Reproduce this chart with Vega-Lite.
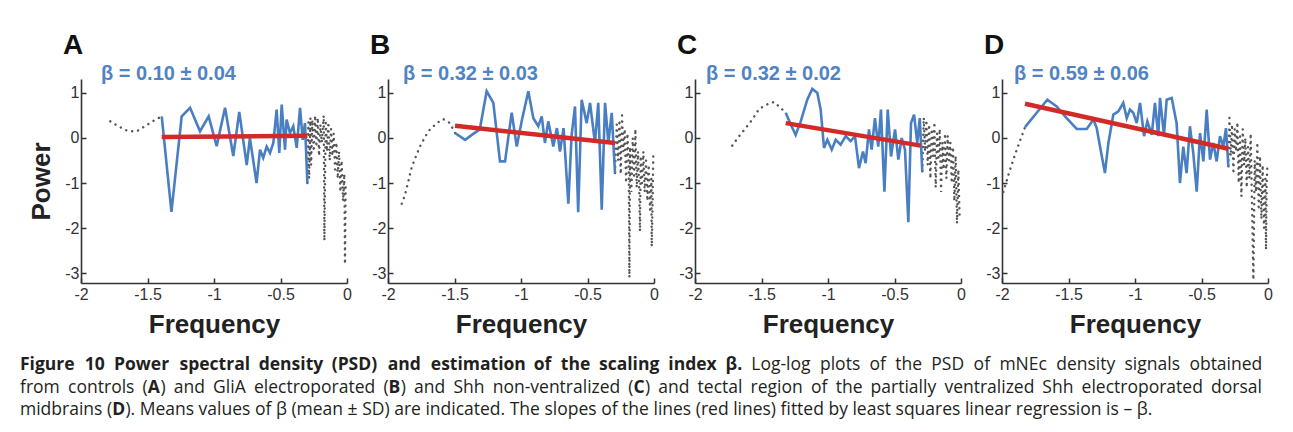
{
  "$schema": "https://vega.github.io/schema/vega-lite/v6.json",
  "padding": {"left": 20, "top": 32, "right": 5, "bottom": 5},
  "background": "white",
  "datasets": {
    "d": [
      {"p":"A","s":"lo","x":-1.78,"y":0.37},{"p":"A","s":"lo","x":-1.72,"y":0.26},{"p":"A","s":"lo","x":-1.644,"y":0.15},{"p":"A","s":"lo","x":-1.58,"y":0.15},{"p":"A","s":"lo","x":-1.52,"y":0.26},{"p":"A","s":"lo","x":-1.45,"y":0.39},{"p":"A","s":"lo","x":-1.393,"y":0.48},
      {"p":"A","s":"mid","x":-1.393,"y":0.48},{"p":"A","s":"mid","x":-1.32,"y":-1.64},{"p":"A","s":"mid","x":-1.243,"y":0.48},{"p":"A","s":"mid","x":-1.18,"y":0.67},{"p":"A","s":"mid","x":-1.105,"y":0.15},{"p":"A","s":"mid","x":-1.04,"y":0.48},{"p":"A","s":"mid","x":-0.98,"y":-0.18},{"p":"A","s":"mid","x":-0.917,"y":0.67},{"p":"A","s":"mid","x":-0.855,"y":-0.4},{"p":"A","s":"mid","x":-0.81,"y":0.58},{"p":"A","s":"mid","x":-0.754,"y":-0.6},{"p":"A","s":"mid","x":-0.73,"y":0.0},{"p":"A","s":"mid","x":-0.68,"y":-1.0},{"p":"A","s":"mid","x":-0.654,"y":-0.26},{"p":"A","s":"mid","x":-0.63,"y":-0.44},{"p":"A","s":"mid","x":-0.604,"y":-0.19},{"p":"A","s":"mid","x":-0.579,"y":-0.33},{"p":"A","s":"mid","x":-0.554,"y":-0.11},{"p":"A","s":"mid","x":-0.529,"y":0.63},{"p":"A","s":"mid","x":-0.509,"y":-0.33},{"p":"A","s":"mid","x":-0.491,"y":0.74},{"p":"A","s":"mid","x":-0.466,"y":-0.26},{"p":"A","s":"mid","x":-0.454,"y":0.41},{"p":"A","s":"mid","x":-0.429,"y":0.11},{"p":"A","s":"mid","x":-0.404,"y":0.26},{"p":"A","s":"mid","x":-0.378,"y":-0.22},{"p":"A","s":"mid","x":-0.353,"y":0.67},{"p":"A","s":"mid","x":-0.333,"y":-0.04},{"p":"A","s":"mid","x":-0.316,"y":0.33},{"p":"A","s":"mid","x":-0.298,"y":-1.0},
      {"p":"A","s":"hi","x":-0.298,"y":-1.0},{"p":"A","s":"hi","x":-0.29,"y":0.35},{"p":"A","s":"hi","x":-0.285,"y":-0.9},{"p":"A","s":"hi","x":-0.275,"y":0.45},{"p":"A","s":"hi","x":-0.27,"y":-0.6},{"p":"A","s":"hi","x":-0.26,"y":0.4},{"p":"A","s":"hi","x":-0.25,"y":-0.3},{"p":"A","s":"hi","x":-0.24,"y":0.5},{"p":"A","s":"hi","x":-0.23,"y":-0.2},{"p":"A","s":"hi","x":-0.22,"y":0.45},{"p":"A","s":"hi","x":-0.21,"y":-0.4},{"p":"A","s":"hi","x":-0.2,"y":0.3},{"p":"A","s":"hi","x":-0.19,"y":-0.1},{"p":"A","s":"hi","x":-0.175,"y":0.5},{"p":"A","s":"hi","x":-0.17,"y":-2.28},{"p":"A","s":"hi","x":-0.16,"y":0.4},{"p":"A","s":"hi","x":-0.15,"y":-0.3},{"p":"A","s":"hi","x":-0.14,"y":0.35},{"p":"A","s":"hi","x":-0.13,"y":-0.5},{"p":"A","s":"hi","x":-0.12,"y":0.2},{"p":"A","s":"hi","x":-0.11,"y":-0.4},{"p":"A","s":"hi","x":-0.1,"y":0.1},{"p":"A","s":"hi","x":-0.09,"y":-0.7},{"p":"A","s":"hi","x":-0.08,"y":-0.1},{"p":"A","s":"hi","x":-0.07,"y":-0.9},{"p":"A","s":"hi","x":-0.06,"y":-0.3},{"p":"A","s":"hi","x":-0.05,"y":-1.2},{"p":"A","s":"hi","x":-0.04,"y":-0.5},{"p":"A","s":"hi","x":-0.03,"y":-1.4},{"p":"A","s":"hi","x":-0.02,"y":-0.8},{"p":"A","s":"hi","x":-0.015,"y":-2.8},{"p":"A","s":"hi","x":-0.01,"y":-1.0},
      {"p":"A","s":"reg","x":-1.393,"y":0.02},{"p":"A","s":"reg","x":-0.298,"y":0.05},
      {"p":"A","s":"beta","x":-1.85,"y":1.41,"t":"β = 0.10 ± 0.04"},

      {"p":"B","s":"lo","x":-1.897,"y":-1.46},{"p":"B","s":"lo","x":-1.872,"y":-1.26},{"p":"B","s":"lo","x":-1.82,"y":-0.63},{"p":"B","s":"lo","x":-1.76,"y":-0.19},{"p":"B","s":"lo","x":-1.697,"y":0.15},{"p":"B","s":"lo","x":-1.634,"y":0.33},{"p":"B","s":"lo","x":-1.584,"y":0.42},{"p":"B","s":"lo","x":-1.534,"y":0.33},{"p":"B","s":"lo","x":-1.496,"y":0.11},
      {"p":"B","s":"mid","x":-1.496,"y":0.11},{"p":"B","s":"mid","x":-1.42,"y":-0.04},{"p":"B","s":"mid","x":-1.37,"y":0.07},{"p":"B","s":"mid","x":-1.31,"y":0.19},{"p":"B","s":"mid","x":-1.258,"y":1.04},{"p":"B","s":"mid","x":-1.208,"y":0.78},{"p":"B","s":"mid","x":-1.158,"y":-0.52},{"p":"B","s":"mid","x":-1.12,"y":-0.52},{"p":"B","s":"mid","x":-1.07,"y":0.56},{"p":"B","s":"mid","x":-1.032,"y":-0.19},{"p":"B","s":"mid","x":-0.995,"y":0.37},{"p":"B","s":"mid","x":-0.945,"y":1.04},{"p":"B","s":"mid","x":-0.907,"y":0.44},{"p":"B","s":"mid","x":-0.87,"y":0.26},{"p":"B","s":"mid","x":-0.844,"y":0.48},{"p":"B","s":"mid","x":-0.82,"y":-0.11},{"p":"B","s":"mid","x":-0.795,"y":0.37},{"p":"B","s":"mid","x":-0.757,"y":-0.19},{"p":"B","s":"mid","x":-0.73,"y":0.22},{"p":"B","s":"mid","x":-0.707,"y":-0.3},{"p":"B","s":"mid","x":-0.68,"y":0.22},{"p":"B","s":"mid","x":-0.644,"y":-1.46},{"p":"B","s":"mid","x":-0.62,"y":0.04},{"p":"B","s":"mid","x":-0.594,"y":0.7},{"p":"B","s":"mid","x":-0.57,"y":-1.65},{"p":"B","s":"mid","x":-0.544,"y":0.85},{"p":"B","s":"mid","x":-0.506,"y":0.33},{"p":"B","s":"mid","x":-0.481,"y":0.78},{"p":"B","s":"mid","x":-0.444,"y":-0.11},{"p":"B","s":"mid","x":-0.419,"y":0.78},{"p":"B","s":"mid","x":-0.393,"y":-1.59},{"p":"B","s":"mid","x":-0.368,"y":0.78},{"p":"B","s":"mid","x":-0.343,"y":-0.11},{"p":"B","s":"mid","x":-0.318,"y":0.56},{"p":"B","s":"mid","x":-0.293,"y":-0.78},
      {"p":"B","s":"hi","x":-0.293,"y":-0.78},{"p":"B","s":"hi","x":-0.28,"y":0.3},{"p":"B","s":"hi","x":-0.27,"y":-0.5},{"p":"B","s":"hi","x":-0.26,"y":0.4},{"p":"B","s":"hi","x":-0.25,"y":-0.8},{"p":"B","s":"hi","x":-0.24,"y":0.5},{"p":"B","s":"hi","x":-0.23,"y":-0.3},{"p":"B","s":"hi","x":-0.22,"y":0.2},{"p":"B","s":"hi","x":-0.21,"y":-1.0},{"p":"B","s":"hi","x":-0.2,"y":0.1},{"p":"B","s":"hi","x":-0.19,"y":-0.6},{"p":"B","s":"hi","x":-0.185,"y":-3.1},{"p":"B","s":"hi","x":-0.18,"y":-0.2},{"p":"B","s":"hi","x":-0.17,"y":-1.2},{"p":"B","s":"hi","x":-0.16,"y":0.0},{"p":"B","s":"hi","x":-0.15,"y":-0.9},{"p":"B","s":"hi","x":-0.14,"y":0.2},{"p":"B","s":"hi","x":-0.13,"y":-1.1},{"p":"B","s":"hi","x":-0.12,"y":-0.3},{"p":"B","s":"hi","x":-0.11,"y":-1.3},{"p":"B","s":"hi","x":-0.105,"y":-2.07},{"p":"B","s":"hi","x":-0.1,"y":-0.4},{"p":"B","s":"hi","x":-0.09,"y":-1.0},{"p":"B","s":"hi","x":-0.08,"y":-0.3},{"p":"B","s":"hi","x":-0.07,"y":-1.2},{"p":"B","s":"hi","x":-0.06,"y":-0.5},{"p":"B","s":"hi","x":-0.05,"y":-1.4},{"p":"B","s":"hi","x":-0.04,"y":-0.6},{"p":"B","s":"hi","x":-0.03,"y":-1.6},{"p":"B","s":"hi","x":-0.02,"y":-0.9},{"p":"B","s":"hi","x":-0.017,"y":-2.41},{"p":"B","s":"hi","x":-0.01,"y":-1.3},{"p":"B","s":"hi","x":-0.005,"y":-0.3},
      {"p":"B","s":"reg","x":-1.496,"y":0.27},{"p":"B","s":"reg","x":-0.293,"y":-0.11},
      {"p":"B","s":"beta","x":-1.887,"y":1.41,"t":"β = 0.32 ± 0.03"},

      {"p":"C","s":"lo","x":-1.72,"y":-0.17},{"p":"C","s":"lo","x":-1.674,"y":0.02},{"p":"C","s":"lo","x":-1.619,"y":0.22},{"p":"C","s":"lo","x":-1.569,"y":0.41},{"p":"C","s":"lo","x":-1.519,"y":0.64},{"p":"C","s":"lo","x":-1.464,"y":0.74},{"p":"C","s":"lo","x":-1.406,"y":0.8},{"p":"C","s":"lo","x":-1.356,"y":0.67},{"p":"C","s":"lo","x":-1.318,"y":0.56},
      {"p":"C","s":"mid","x":-1.318,"y":0.56},{"p":"C","s":"mid","x":-1.28,"y":0.3},{"p":"C","s":"mid","x":-1.243,"y":0.07},{"p":"C","s":"mid","x":-1.205,"y":0.37},{"p":"C","s":"mid","x":-1.156,"y":0.85},{"p":"C","s":"mid","x":-1.118,"y":1.09},{"p":"C","s":"mid","x":-1.08,"y":1.0},{"p":"C","s":"mid","x":-1.055,"y":0.63},{"p":"C","s":"mid","x":-1.03,"y":-0.22},{"p":"C","s":"mid","x":-1.005,"y":-0.04},{"p":"C","s":"mid","x":-0.972,"y":-0.26},{"p":"C","s":"mid","x":-0.942,"y":-0.04},{"p":"C","s":"mid","x":-0.905,"y":-0.15},{"p":"C","s":"mid","x":-0.867,"y":0.04},{"p":"C","s":"mid","x":-0.83,"y":-0.07},{"p":"C","s":"mid","x":-0.797,"y":0.04},{"p":"C","s":"mid","x":-0.767,"y":-0.67},{"p":"C","s":"mid","x":-0.737,"y":-0.3},{"p":"C","s":"mid","x":-0.717,"y":-0.56},{"p":"C","s":"mid","x":-0.692,"y":0.19},{"p":"C","s":"mid","x":-0.672,"y":-0.26},{"p":"C","s":"mid","x":-0.647,"y":0.44},{"p":"C","s":"mid","x":-0.622,"y":-0.19},{"p":"C","s":"mid","x":-0.602,"y":0.63},{"p":"C","s":"mid","x":-0.576,"y":-1.19},{"p":"C","s":"mid","x":-0.551,"y":0.63},{"p":"C","s":"mid","x":-0.526,"y":-0.41},{"p":"C","s":"mid","x":-0.496,"y":0.19},{"p":"C","s":"mid","x":-0.471,"y":-0.48},{"p":"C","s":"mid","x":-0.446,"y":0.0},{"p":"C","s":"mid","x":-0.421,"y":-0.26},{"p":"C","s":"mid","x":-0.396,"y":-1.87},{"p":"C","s":"mid","x":-0.376,"y":0.33},{"p":"C","s":"mid","x":-0.353,"y":0.52},{"p":"C","s":"mid","x":-0.329,"y":-0.11},{"p":"C","s":"mid","x":-0.31,"y":0.44},{"p":"C","s":"mid","x":-0.291,"y":-0.74},
      {"p":"C","s":"hi","x":-0.291,"y":-0.74},{"p":"C","s":"hi","x":-0.28,"y":0.45},{"p":"C","s":"hi","x":-0.27,"y":-0.3},{"p":"C","s":"hi","x":-0.26,"y":0.4},{"p":"C","s":"hi","x":-0.25,"y":-0.6},{"p":"C","s":"hi","x":-0.24,"y":0.3},{"p":"C","s":"hi","x":-0.23,"y":-0.9},{"p":"C","s":"hi","x":-0.22,"y":0.2},{"p":"C","s":"hi","x":-0.21,"y":-0.4},{"p":"C","s":"hi","x":-0.2,"y":0.35},{"p":"C","s":"hi","x":-0.19,"y":-1.1},{"p":"C","s":"hi","x":-0.18,"y":0.1},{"p":"C","s":"hi","x":-0.17,"y":-0.5},{"p":"C","s":"hi","x":-0.16,"y":0.2},{"p":"C","s":"hi","x":-0.15,"y":-1.2},{"p":"C","s":"hi","x":-0.14,"y":-0.1},{"p":"C","s":"hi","x":-0.13,"y":-0.7},{"p":"C","s":"hi","x":-0.12,"y":0.1},{"p":"C","s":"hi","x":-0.11,"y":-0.9},{"p":"C","s":"hi","x":-0.1,"y":0.05},{"p":"C","s":"hi","x":-0.09,"y":-0.5},{"p":"C","s":"hi","x":-0.08,"y":-0.1},{"p":"C","s":"hi","x":-0.07,"y":-1.0},{"p":"C","s":"hi","x":-0.06,"y":-0.2},{"p":"C","s":"hi","x":-0.05,"y":-1.4},{"p":"C","s":"hi","x":-0.04,"y":-0.4},{"p":"C","s":"hi","x":-0.03,"y":-1.9},{"p":"C","s":"hi","x":-0.02,"y":-0.7},{"p":"C","s":"hi","x":-0.01,"y":-1.8},
      {"p":"C","s":"reg","x":-1.318,"y":0.33},{"p":"C","s":"reg","x":-0.303,"y":-0.17},
      {"p":"C","s":"beta","x":-1.917,"y":1.41,"t":"β = 0.32 ± 0.02"},

      {"p":"D","s":"lo","x":-1.99,"y":-1.2},{"p":"D","s":"lo","x":-1.95,"y":-0.8},{"p":"D","s":"lo","x":-1.9,"y":-0.35},{"p":"D","s":"lo","x":-1.86,"y":-0.03},{"p":"D","s":"lo","x":-1.827,"y":0.24},
      {"p":"D","s":"mid","x":-1.827,"y":0.24},{"p":"D","s":"mid","x":-1.739,"y":0.56},{"p":"D","s":"mid","x":-1.659,"y":0.85},{"p":"D","s":"mid","x":-1.589,"y":0.7},{"p":"D","s":"mid","x":-1.514,"y":0.44},{"p":"D","s":"mid","x":-1.438,"y":0.2},{"p":"D","s":"mid","x":-1.363,"y":0.2},{"p":"D","s":"mid","x":-1.313,"y":0.41},{"p":"D","s":"mid","x":-1.288,"y":0.22},{"p":"D","s":"mid","x":-1.263,"y":-0.19},{"p":"D","s":"mid","x":-1.226,"y":-0.78},{"p":"D","s":"mid","x":-1.2,"y":-0.11},{"p":"D","s":"mid","x":-1.163,"y":0.52},{"p":"D","s":"mid","x":-1.125,"y":0.59},{"p":"D","s":"mid","x":-1.088,"y":0.78},{"p":"D","s":"mid","x":-1.062,"y":0.44},{"p":"D","s":"mid","x":-1.038,"y":0.63},{"p":"D","s":"mid","x":-1.013,"y":0.56},{"p":"D","s":"mid","x":-0.987,"y":0.33},{"p":"D","s":"mid","x":-0.962,"y":0.78},{"p":"D","s":"mid","x":-0.932,"y":0.04},{"p":"D","s":"mid","x":-0.907,"y":0.37},{"p":"D","s":"mid","x":-0.874,"y":0.07},{"p":"D","s":"mid","x":-0.85,"y":0.78},{"p":"D","s":"mid","x":-0.825,"y":0.04},{"p":"D","s":"mid","x":-0.812,"y":0.89},{"p":"D","s":"mid","x":-0.782,"y":0.07},{"p":"D","s":"mid","x":-0.762,"y":0.85},{"p":"D","s":"mid","x":-0.724,"y":0.89},{"p":"D","s":"mid","x":-0.687,"y":0.33},{"p":"D","s":"mid","x":-0.662,"y":-1.0},{"p":"D","s":"mid","x":-0.637,"y":-0.19},{"p":"D","s":"mid","x":-0.612,"y":-0.78},{"p":"D","s":"mid","x":-0.587,"y":0.26},{"p":"D","s":"mid","x":-0.562,"y":-0.33},{"p":"D","s":"mid","x":-0.536,"y":-1.19},{"p":"D","s":"mid","x":-0.511,"y":0.11},{"p":"D","s":"mid","x":-0.486,"y":-0.52},{"p":"D","s":"mid","x":-0.461,"y":0.63},{"p":"D","s":"mid","x":-0.436,"y":-0.48},{"p":"D","s":"mid","x":-0.411,"y":-0.11},{"p":"D","s":"mid","x":-0.386,"y":-0.52},{"p":"D","s":"mid","x":-0.361,"y":0.04},{"p":"D","s":"mid","x":-0.336,"y":-0.19},{"p":"D","s":"mid","x":-0.316,"y":0.22},{"p":"D","s":"mid","x":-0.298,"y":-0.63},
      {"p":"D","s":"hi","x":-0.298,"y":-0.63},{"p":"D","s":"hi","x":-0.29,"y":0.45},{"p":"D","s":"hi","x":-0.28,"y":-0.4},{"p":"D","s":"hi","x":-0.27,"y":0.3},{"p":"D","s":"hi","x":-0.26,"y":-0.8},{"p":"D","s":"hi","x":-0.25,"y":0.2},{"p":"D","s":"hi","x":-0.24,"y":-0.3},{"p":"D","s":"hi","x":-0.23,"y":0.35},{"p":"D","s":"hi","x":-0.22,"y":-1.0},{"p":"D","s":"hi","x":-0.21,"y":0.1},{"p":"D","s":"hi","x":-0.2,"y":-1.3},{"p":"D","s":"hi","x":-0.19,"y":0.2},{"p":"D","s":"hi","x":-0.18,"y":-0.6},{"p":"D","s":"hi","x":-0.17,"y":0.0},{"p":"D","s":"hi","x":-0.16,"y":-1.1},{"p":"D","s":"hi","x":-0.15,"y":-0.2},{"p":"D","s":"hi","x":-0.14,"y":-0.9},{"p":"D","s":"hi","x":-0.13,"y":0.1},{"p":"D","s":"hi","x":-0.12,"y":-1.5},{"p":"D","s":"hi","x":-0.11,"y":-3.15},{"p":"D","s":"hi","x":-0.1,"y":-0.5},{"p":"D","s":"hi","x":-0.09,"y":-1.2},{"p":"D","s":"hi","x":-0.08,"y":-0.1},{"p":"D","s":"hi","x":-0.07,"y":-1.6},{"p":"D","s":"hi","x":-0.06,"y":-0.4},{"p":"D","s":"hi","x":-0.05,"y":-1.8},{"p":"D","s":"hi","x":-0.04,"y":-0.6},{"p":"D","s":"hi","x":-0.03,"y":-2.0},{"p":"D","s":"hi","x":-0.02,"y":-0.9},{"p":"D","s":"hi","x":-0.015,"y":-2.48},{"p":"D","s":"hi","x":-0.01,"y":-1.1},{"p":"D","s":"hi","x":-0.005,"y":-0.6},
      {"p":"D","s":"reg","x":-1.827,"y":0.76},{"p":"D","s":"reg","x":-0.298,"y":-0.24},
      {"p":"D","s":"beta","x":-1.91,"y":1.41,"t":"β = 0.59 ± 0.06"}
    ],
    "cap": [
      {"l":1,"pos":20,"w":"bold","t":"Figure"},{"l":1,"pos":84.7,"w":"bold","t":"10"},{"l":1,"pos":114,"w":"bold","t":"Power"},{"l":1,"pos":179.5,"w":"bold","t":"spectral"},{"l":1,"pos":258.7,"w":"bold","t":"density"},{"l":1,"pos":331.7,"w":"bold","t":"(PSD)"},{"l":1,"pos":387.8,"w":"bold","t":"and"},{"l":1,"pos":430.8,"w":"bold","t":"estimation"},{"l":1,"pos":533.7,"w":"bold","t":"of"},{"l":1,"pos":560.8,"w":"bold","t":"the"},{"l":1,"pos":599,"w":"bold","t":"scaling"},{"l":1,"pos":668.3,"w":"bold","t":"index"},{"l":1,"pos":725.6,"w":"bold","t":"β."},
      {"l":1,"pos":751.3,"w":"normal","t":"Log-log"},{"l":1,"pos":820,"w":"normal","t":"plots"},{"l":1,"pos":869.5,"w":"normal","t":"of"},{"l":1,"pos":895.3,"w":"normal","t":"the"},{"l":1,"pos":931.3,"w":"normal","t":"PSD"},{"l":1,"pos":973.6,"w":"normal","t":"of"},{"l":1,"pos":999.4,"w":"normal","t":"mNEc"},{"l":1,"pos":1056.2,"w":"normal","t":"density"},{"l":1,"pos":1124.5,"w":"normal","t":"signals"},{"l":1,"pos":1189.4,"w":"normal","t":"obtained"},
      {"l":2,"pos":20,"w":"normal","t":"from"},{"l":2,"pos":68.1,"w":"normal","t":"controls"},{"l":2,"pos":142.6,"w":"normal","t":"("},{"l":2,"pos":147.8,"w":"bold","t":"A"},{"l":2,"pos":160.4,"w":"normal","t":")"},{"l":2,"pos":173.7,"w":"normal","t":"and"},{"l":2,"pos":213.1,"w":"normal","t":"GliA"},{"l":2,"pos":254,"w":"normal","t":"electroporated"},{"l":2,"pos":383.4,"w":"normal","t":"("},{"l":2,"pos":388.6,"w":"bold","t":"B"},{"l":2,"pos":400.7,"w":"normal","t":")"},{"l":2,"pos":414,"w":"normal","t":"and"},{"l":2,"pos":453.4,"w":"normal","t":"Shh"},{"l":2,"pos":492.7,"w":"normal","t":"non-ventralized"},{"l":2,"pos":628.3,"w":"normal","t":"("},{"l":2,"pos":633.5,"w":"bold","t":"C"},{"l":2,"pos":644.9,"w":"normal","t":")"},{"l":2,"pos":658.2,"w":"normal","t":"and"},{"l":2,"pos":697.6,"w":"normal","t":"tectal"},{"l":2,"pos":750.5,"w":"normal","t":"region"},{"l":2,"pos":811,"w":"normal","t":"of"},{"l":2,"pos":835.7,"w":"normal","t":"the"},{"l":2,"pos":870.6,"w":"normal","t":"partially"},{"l":2,"pos":944.4,"w":"normal","t":"ventralized"},{"l":2,"pos":1042.3,"w":"normal","t":"Shh"},{"l":2,"pos":1081.6,"w":"normal","t":"electroporated"},{"l":2,"pos":1211,"w":"normal","t":"dorsal"},
      {"l":3,"pos":20,"w":"normal","t":"midbrains ("},{"l":3,"pos":112.3,"w":"bold","t":"D"},{"l":3,"pos":125.4,"w":"normal","t":"). Means values of β (mean ± SD) are indicated. The slopes of the lines (red lines) fitted by least squares linear regression is – β."}
    ]
  },
  "vconcat": [
    {
      "data": {"name": "d"},
      "hconcat": [
        {
          "width": 266, "height": 204,
          "title": {"text": "A", "anchor": "start", "frame": "group", "dx": -18, "offset": 4},
          "transform": [{"filter": "datum.p == 'A'"}],
          "layer": [
            {"transform": [{"filter": "datum.s == 'lo' || datum.s == 'hi'"}],
             "mark": {"type": "line", "color": "#555555", "strokeWidth": 2.4, "strokeDash": [0.1, 6], "strokeCap": "round"},
             "encoding": {
               "x": {"field": "x", "type": "quantitative", "scale": {"domain": [-2, 0], "nice": false, "zero": false}, "axis": {"values": [-2, -1.5, -1, -0.5, 0], "labelExpr": "'' + datum.value", "title": "Frequency"}},
               "y": {"field": "y", "type": "quantitative", "scale": {"domain": [-3.22, 1.31], "nice": false, "zero": false}, "axis": {"values": [-3, -2, -1, 0, 1], "labelExpr": "'' + datum.value", "title": "Power"}},
               "detail": {"field": "s"}}},
            {"transform": [{"filter": "datum.s == 'mid'"}],
             "mark": {"type": "line", "color": "#4a7ec2", "strokeWidth": 2.6},
             "encoding": {"x": {"field": "x", "type": "quantitative"}, "y": {"field": "y", "type": "quantitative"}}},
            {"transform": [{"filter": "datum.s == 'reg'"}],
             "mark": {"type": "line", "color": "#d42a27", "strokeWidth": 4.5},
             "encoding": {"x": {"field": "x", "type": "quantitative"}, "y": {"field": "y", "type": "quantitative"}}},
            {"transform": [{"filter": "datum.s == 'beta'"}],
             "mark": {"type": "text", "align": "left", "baseline": "middle", "font": "Liberation Sans", "fontSize": 20, "fontWeight": "bold", "color": "#5083c4"},
             "encoding": {"x": {"field": "x", "type": "quantitative"}, "y": {"field": "y", "type": "quantitative"}, "text": {"field": "t"}}}
          ]
        },
        {
          "width": 266, "height": 204,
          "title": {"text": "B", "anchor": "start", "frame": "group", "dx": -18, "offset": 4},
          "transform": [{"filter": "datum.p == 'B'"}],
          "layer": [
            {"transform": [{"filter": "datum.s == 'lo' || datum.s == 'hi'"}],
             "mark": {"type": "line", "color": "#555555", "strokeWidth": 2.4, "strokeDash": [0.1, 6], "strokeCap": "round"},
             "encoding": {
               "x": {"field": "x", "type": "quantitative", "scale": {"domain": [-2, 0], "nice": false, "zero": false}, "axis": {"values": [-2, -1.5, -1, -0.5, 0], "labelExpr": "'' + datum.value", "title": "Frequency"}},
               "y": {"field": "y", "type": "quantitative", "scale": {"domain": [-3.22, 1.31], "nice": false, "zero": false}, "axis": {"values": [-3, -2, -1, 0, 1], "labelExpr": "'' + datum.value", "title": null}},
               "detail": {"field": "s"}}},
            {"transform": [{"filter": "datum.s == 'mid'"}],
             "mark": {"type": "line", "color": "#4a7ec2", "strokeWidth": 2.6},
             "encoding": {"x": {"field": "x", "type": "quantitative"}, "y": {"field": "y", "type": "quantitative"}}},
            {"transform": [{"filter": "datum.s == 'reg'"}],
             "mark": {"type": "line", "color": "#d42a27", "strokeWidth": 4.5},
             "encoding": {"x": {"field": "x", "type": "quantitative"}, "y": {"field": "y", "type": "quantitative"}}},
            {"transform": [{"filter": "datum.s == 'beta'"}],
             "mark": {"type": "text", "align": "left", "baseline": "middle", "font": "Liberation Sans", "fontSize": 20, "fontWeight": "bold", "color": "#5083c4"},
             "encoding": {"x": {"field": "x", "type": "quantitative"}, "y": {"field": "y", "type": "quantitative"}, "text": {"field": "t"}}}
          ]
        },
        {
          "width": 266, "height": 204,
          "title": {"text": "C", "anchor": "start", "frame": "group", "dx": -18, "offset": 4},
          "transform": [{"filter": "datum.p == 'C'"}],
          "layer": [
            {"transform": [{"filter": "datum.s == 'lo' || datum.s == 'hi'"}],
             "mark": {"type": "line", "color": "#555555", "strokeWidth": 2.4, "strokeDash": [0.1, 6], "strokeCap": "round"},
             "encoding": {
               "x": {"field": "x", "type": "quantitative", "scale": {"domain": [-2, 0], "nice": false, "zero": false}, "axis": {"values": [-2, -1.5, -1, -0.5, 0], "labelExpr": "'' + datum.value", "title": "Frequency"}},
               "y": {"field": "y", "type": "quantitative", "scale": {"domain": [-3.22, 1.31], "nice": false, "zero": false}, "axis": {"values": [-3, -2, -1, 0, 1], "labelExpr": "'' + datum.value", "title": null}},
               "detail": {"field": "s"}}},
            {"transform": [{"filter": "datum.s == 'mid'"}],
             "mark": {"type": "line", "color": "#4a7ec2", "strokeWidth": 2.6},
             "encoding": {"x": {"field": "x", "type": "quantitative"}, "y": {"field": "y", "type": "quantitative"}}},
            {"transform": [{"filter": "datum.s == 'reg'"}],
             "mark": {"type": "line", "color": "#d42a27", "strokeWidth": 4.5},
             "encoding": {"x": {"field": "x", "type": "quantitative"}, "y": {"field": "y", "type": "quantitative"}}},
            {"transform": [{"filter": "datum.s == 'beta'"}],
             "mark": {"type": "text", "align": "left", "baseline": "middle", "font": "Liberation Sans", "fontSize": 20, "fontWeight": "bold", "color": "#5083c4"},
             "encoding": {"x": {"field": "x", "type": "quantitative"}, "y": {"field": "y", "type": "quantitative"}, "text": {"field": "t"}}}
          ]
        },
        {
          "width": 266, "height": 204,
          "title": {"text": "D", "anchor": "start", "frame": "group", "dx": -18, "offset": 4},
          "transform": [{"filter": "datum.p == 'D'"}],
          "layer": [
            {"transform": [{"filter": "datum.s == 'lo' || datum.s == 'hi'"}],
             "mark": {"type": "line", "color": "#555555", "strokeWidth": 2.4, "strokeDash": [0.1, 6], "strokeCap": "round"},
             "encoding": {
               "x": {"field": "x", "type": "quantitative", "scale": {"domain": [-2, 0], "nice": false, "zero": false}, "axis": {"values": [-2, -1.5, -1, -0.5, 0], "labelExpr": "'' + datum.value", "title": "Frequency"}},
               "y": {"field": "y", "type": "quantitative", "scale": {"domain": [-3.22, 1.31], "nice": false, "zero": false}, "axis": {"values": [-3, -2, -1, 0, 1], "labelExpr": "'' + datum.value", "title": null}},
               "detail": {"field": "s"}}},
            {"transform": [{"filter": "datum.s == 'mid'"}],
             "mark": {"type": "line", "color": "#4a7ec2", "strokeWidth": 2.6},
             "encoding": {"x": {"field": "x", "type": "quantitative"}, "y": {"field": "y", "type": "quantitative"}}},
            {"transform": [{"filter": "datum.s == 'reg'"}],
             "mark": {"type": "line", "color": "#d42a27", "strokeWidth": 4.5},
             "encoding": {"x": {"field": "x", "type": "quantitative"}, "y": {"field": "y", "type": "quantitative"}}},
            {"transform": [{"filter": "datum.s == 'beta'"}],
             "mark": {"type": "text", "align": "left", "baseline": "middle", "font": "Liberation Sans", "fontSize": 20, "fontWeight": "bold", "color": "#5083c4"},
             "encoding": {"x": {"field": "x", "type": "quantitative"}, "y": {"field": "y", "type": "quantitative"}, "text": {"field": "t"}}}
          ]
        }
      ],
      "spacing": 41,
      "bounds": "flush"
    },
    {
      "data": {"name": "cap"},
      "width": 1212, "height": 67.5,
      "layer": [
        {"transform": [{"filter": "datum.w == 'bold'"}],
         "mark": {"type": "text", "align": "left", "baseline": "middle", "font": "Open Sans", "fontSize": 17.5, "fontWeight": "bold", "color": "#231f20"},
         "encoding": {
           "x": {"field": "pos", "type": "quantitative", "scale": {"domain": [81, 1293], "nice": false, "zero": false}, "axis": null},
           "y": {"field": "l", "type": "quantitative", "scale": {"domain": [3.5, 0.5], "nice": false, "zero": false}, "axis": null},
           "text": {"field": "t"}}},
        {"transform": [{"filter": "datum.w == 'normal'"}],
         "mark": {"type": "text", "align": "left", "baseline": "middle", "font": "Open Sans", "fontSize": 17.5, "color": "#231f20"},
         "encoding": {
           "x": {"field": "pos", "type": "quantitative"},
           "y": {"field": "l", "type": "quantitative"},
           "text": {"field": "t"}}}
      ]
    }
  ],
  "spacing": 275,
  "bounds": "flush",
  "config": {
    "view": {"stroke": null},
    "axis": {"domainColor": "#333333", "domainWidth": 1.6, "tickColor": "#333333", "tickWidth": 1.5, "tickSize": -5, "labelPadding": 7, "labelFlush": false, "labelFont": "Liberation Sans", "labelFontSize": 16, "labelColor": "#333333", "grid": false, "titleFont": "Liberation Sans", "titleFontSize": 26, "titleFontWeight": "bold", "titleColor": "#222222"},
    "axisX": {"titlePadding": 9, "labelPadding": 8},
    "axisY": {"titlePadding": 10},
    "title": {"font": "Liberation Sans", "fontSize": 28, "fontWeight": "bold", "color": "#111111"}
  }
}
